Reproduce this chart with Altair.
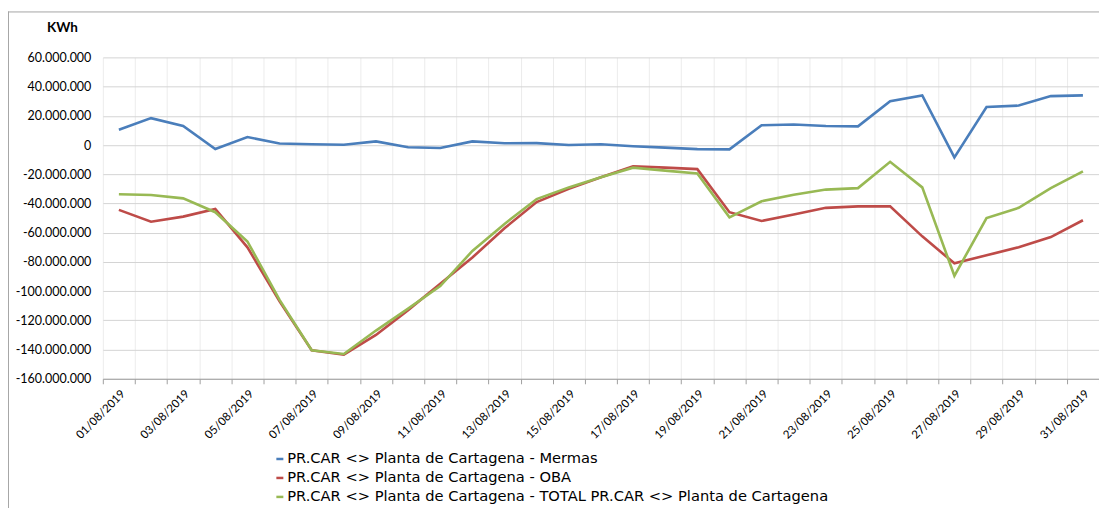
import altair as alt
import pandas as pd

days = [f"{d:02d}/08/2019" for d in range(1, 32)]

mermas = [10.5, 18.4, 13.0, -2.7, 5.5, 1.0, 0.5, 0.2, 2.5, -1.5, -2.0, 2.5, 1.2, 1.3, 0.0, 0.5,
          -0.8, -1.8, -2.8, -3.0, 13.5, 14.0, 13.0, 12.8, 30.0, 34.0, -8.5, 26.0, 27.0, 33.5, 34.0]
oba = [-44.4, -52.5, -49.0, -43.8, -70.0, -107.0, -140.5, -143.5, -130.0, -113.0, -95.0, -77.0,
       -57.0, -39.0, -30.0, -22.0, -14.5, -15.5, -16.5, -46.0, -52.0, -47.5, -43.0, -42.0, -42.0,
       -62.5, -81.0, -75.5, -70.0, -63.0, -51.5]
total = [-33.7, -34.2, -36.5, -46.0, -66.0, -106.0, -140.5, -143.0, -127.0, -112.0, -96.5, -72.5,
         -54.0, -37.0, -29.0, -22.0, -15.5, -17.5, -19.5, -49.5, -38.5, -34.0, -30.5, -29.5, -11.5,
         -29.0, -89.5, -50.0, -43.0, -29.5, -18.0]

series_names = [
    "PR.CAR <> Planta de Cartagena - Mermas",
    "PR.CAR <> Planta de Cartagena - OBA",
    "PR.CAR <> Planta de Cartagena - TOTAL PR.CAR <> Planta de Cartagena",
]
series_colors = ["#4A7EBB", "#BE4B48", "#98B954"]

rows = []
for name, vals in zip(series_names, [mermas, oba, total]):
    for d, v in zip(days, vals):
        rows.append({"fecha": d, "serie": name, "valor": v * 1_000_000})
df = pd.DataFrame(rows)

FONT = "Lato"
LEGEND_FONT = "DejaVu Sans"

y_label_expr = ("(datum.value < 0 ? '-' : '') + "
                "replace(format(abs(datum.value), ','), regexp(',', 'g'), '.')")
x_label_expr = "parseInt(substring(datum.label, 0, 2)) % 2 == 1 ? datum.label : ''"

lines = alt.Chart(df).mark_line(strokeWidth=2.6).encode(
    x=alt.X("fecha:O", sort=days, bandPosition=0.5,
            scale=alt.Scale(type="band", paddingInner=0, paddingOuter=0),
            axis=alt.Axis(title=None, labelAngle=-45, labelAlign="right", labelBaseline="top",
                          labelExpr=x_label_expr, labelOverlap=False, labelFontSize=11.5,
                          labelFont=FONT, labelColor="#000000", labelPadding=4,
                          tickBand="extent", ticks=True, tickSize=5, tickColor="#a0a0a0",
                          domainColor="#a0a0a0", domainWidth=1,
                          grid=True, gridColor="#ececec", gridWidth=1)),
    y=alt.Y("valor:Q", scale=alt.Scale(domain=[-160_000_000, 60_000_000], nice=False),
            axis=alt.Axis(values=list(range(-160_000_000, 60_000_001, 20_000_000)),
                          labelExpr=y_label_expr, labelFontSize=12.5, labelFont=FONT,
                          labelColor="#000000", ticks=False, domain=False, labelPadding=12,
                          gridColor="#d4d4d4", gridWidth=1,
                          title="KWh", titleAngle=0, titleX=-41, titleY=-30,
                          titleAlign="center", titleBaseline="middle",
                          titleFont=FONT, titleFontSize=13.5, titleFontWeight="bold",
                          titleColor="#000000")),
    color=alt.Color("serie:N", scale=alt.Scale(domain=series_names, range=series_colors),
                    legend=alt.Legend(title=None, orient="none", legendX=170, legendY=395,
                                      direction="vertical", symbolType="stroke",
                                      symbolSize=49, symbolStrokeWidth=2.5,
                                      labelFont=LEGEND_FONT, labelFontSize=14.7, labelColor="#000000",
                                      labelLimit=1000, labelOffset=0, rowPadding=3)),
)

frame = alt.Data(values=[{"k": 1}])
frame_left = alt.Chart(frame).mark_rule(color="#a6a6a6", strokeWidth=1).encode(
    x=alt.value(-94.5), y=alt.value(-46), y2=alt.value(460))
frame_top = alt.Chart(frame).mark_rule(color="#a6a6a6", strokeWidth=1).encode(
    x=alt.value(-95), x2=alt.value(1000), y=alt.value(-45.5))

chart = alt.layer(frame_left, frame_top, lines).properties(
    width=998, height=322,
    autosize=alt.AutoSizeParams(type="none"),
    padding={"left": 95, "top": 49, "right": 0, "bottom": 129},
).configure_view(stroke=None)

chart.save("out.html", embed_options={"renderer": "svg", "actions": False})
